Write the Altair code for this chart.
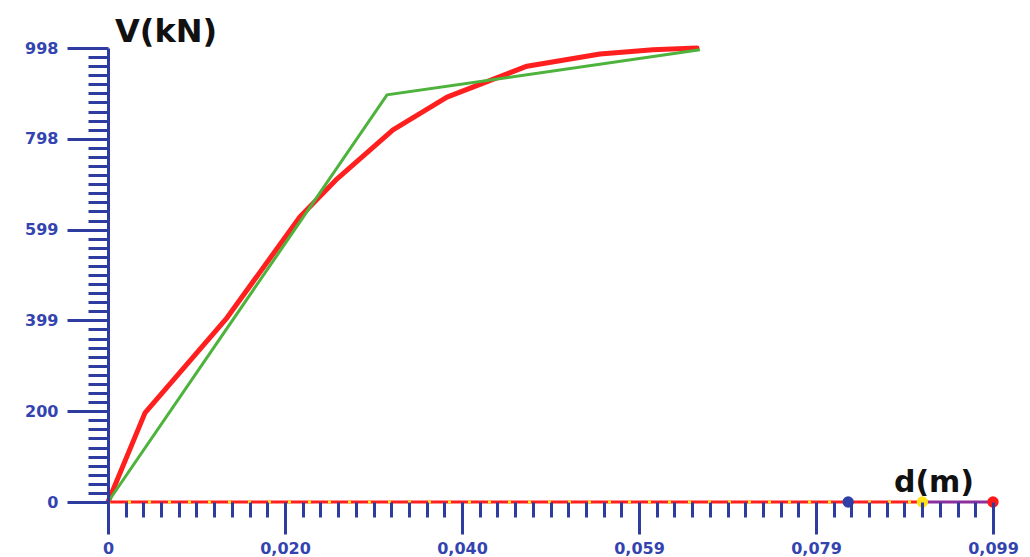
import altair as alt
import pandas as pd

# ---- data ----
# red curve: capacity (pushover) curve, d in m, V in kN
red_d = [0.0, 0.00414, 0.01331, 0.02148, 0.02550, 0.03188, 0.03792, 0.04687, 0.05504, 0.06096, 0.06589]
red_v = [0, 196, 405, 627, 708, 818, 890, 958, 985, 994, 998]

# green curve: bilinear idealisation
green_d = [0.0, 0.03121, 0.06622]
green_v = [0, 895, 994]

# line along the d axis (V = 0)
base_d = [0.0, 0.0911]
base_v = [0, 0]
tail_d = [0.0911, 0.099]
tail_v = [0, 0]

# markers sitting on the d axis
marker_d = [0.0828, 0.0911, 0.099]
marker_v = [0, 0, 0]
marker_name = ["blue", "yellow", "red"]
marker_color = ["#2f3fa6", "#ffe21a", "#ff1a1a"]

x_max = 0.099
y_max = 998.0
x_labels = ["0", "0,020", "0,040", "0,059", "0,079", "0,099"]
y_labels = ["0", "200", "399", "599", "798", "998"]
n_major = 5
n_minor = 10

AXIS_BLUE = "#2e3ca0"
LABEL_BLUE = "#3344b0"
RED = "#ff1f1f"
GREEN = "#4db33d"

W, H = 885, 454

x_step = x_max / (n_major * n_minor)
y_step = y_max / (n_major * n_minor)
x_ticks = [x_step * i for i in range(n_major * n_minor + 1)]
y_ticks = [y_step * i for i in range(n_major * n_minor + 1)]


def js_list(items):
    return "[" + ",".join("'" + s + "'" for s in items) + "]"


def major_test(step):
    return f"round(datum.value / {step}) % {n_minor} == 0"


def label_expr(step, labels):
    return (f"({major_test(step)}) ? {js_list(labels)}[round(datum.value / {step}) / {n_minor}] : ''")


x_scale = alt.Scale(domain=[0, x_max], nice=False, zero=True)
y_scale = alt.Scale(domain=[0, y_max], nice=False, zero=True)

x_axis = alt.Axis(
    title=None, values=x_ticks, labelExpr=label_expr(x_step, x_labels),
    tickSize={"condition": {"test": major_test(x_step), "value": 32}, "value": 15},
    tickWidth=3, tickColor=AXIS_BLUE, domain=False, grid=False,
    labelColor=LABEL_BLUE, labelFont="DejaVu Sans", labelFontSize=16, labelFontWeight="bold",
    labelPadding=6, labelOverlap=False, labelFlush=False, zindex=1,
)
y_axis = alt.Axis(
    title=None, values=y_ticks, labelExpr=label_expr(y_step, y_labels),
    tickSize={"condition": {"test": major_test(y_step), "value": 41}, "value": 20},
    tickWidth=3, tickColor=AXIS_BLUE, domain=True, domainColor=AXIS_BLUE, domainWidth=3,
    grid=False, labelColor=LABEL_BLUE, labelFont="DejaVu Sans", labelFontSize=16,
    labelFontWeight="bold", labelPadding=9, labelOverlap=False, labelFlush=False, zindex=1,
)

red_df = pd.DataFrame({"d": red_d, "V": red_v})
green_df = pd.DataFrame({"d": green_d, "V": green_v})
base_df = pd.DataFrame({"d": base_d, "V": base_v})
tail_df = pd.DataFrame({"d": tail_d, "V": tail_v})
mark_df = pd.DataFrame({"d": marker_d, "V": marker_v, "name": marker_name})

X = alt.X("d:Q", scale=x_scale, axis=x_axis)
Y = alt.Y("V:Q", scale=y_scale, axis=y_axis)

base = alt.Chart(base_df).mark_line(color=RED, strokeWidth=3).encode(x=X, y=Y)
base_dash = alt.Chart(base_df).mark_line(color="#ffe21a", strokeWidth=3, strokeDash=[3, 17]).encode(x=X, y=Y)
tail = alt.Chart(tail_df).mark_line(color="#8a2f9c", strokeWidth=3).encode(x=X, y=Y)

red = alt.Chart(red_df).mark_line(color=RED, strokeWidth=5, strokeJoin="round", strokeCap="round").encode(x=X, y=Y)
green = alt.Chart(green_df).mark_line(color=GREEN, strokeWidth=3).encode(x=X, y=Y)

markers = alt.Chart(mark_df).mark_circle(size=130, opacity=1).encode(
    x=X, y=Y,
    color=alt.Color("name:N", scale=alt.Scale(domain=marker_name, range=marker_color), legend=None),
)

title_v = alt.Chart(pd.DataFrame({"t": ["V(kN)"]})).mark_text(
    font="DejaVu Sans", fontSize=32, fontWeight="bold", color="#111111",
    align="left", baseline="alphabetic",
).encode(text="t:N", x=alt.value(7), y=alt.value(-6))
title_d = alt.Chart(pd.DataFrame({"t": ["d(m)"]})).mark_text(
    font="DejaVu Sans", fontSize=30, fontWeight="bold", color="#111111",
    align="center", baseline="alphabetic",
).encode(text="t:N", x=alt.value(826), y=alt.value(444))

chart = alt.layer(
    base, base_dash, tail, red, green, markers, title_v, title_d
).properties(
    width=W, height=H,
    autosize=alt.AutoSizeParams(type="none"),
    padding={"left": 108, "top": 48, "right": 37, "bottom": 55},
    background="white",
).configure_view(stroke=None)

chart.save("out.html", embed_options={"renderer": "svg", "actions": False})
